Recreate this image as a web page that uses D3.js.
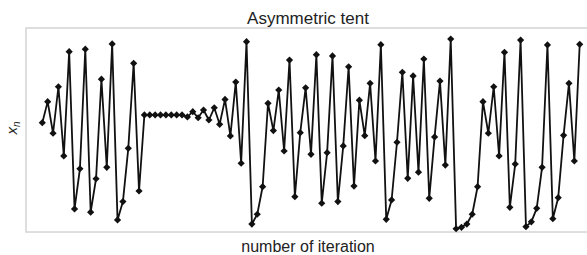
<!DOCTYPE html>
<html>
<head>
<meta charset="utf-8">
<script src="https://cdn.jsdelivr.net/npm/d3@7"></script>
<style>
  body { margin: 0; background: #fff; }
  text { font-family: "Liberation Sans", Arial, sans-serif; fill: #222; }
</style>
</head>
<body>
<div id="chart"></div>
<script>
// iterates x_n of the asymmetric tent map
const iterations = d3.range(0, 101);
const xn = [
  0.536, 0.639, 0.484, 0.712, 0.373, 0.884, 0.113, 0.310, 0.896, 0.097,
  0.261, 0.749, 0.317, 0.922, 0.059, 0.149, 0.410, 0.827, 0.201, 0.574,
  0.574, 0.574, 0.574, 0.574, 0.574, 0.574, 0.574, 0.564, 0.590, 0.560,
  0.598, 0.549, 0.609, 0.528, 0.650, 0.471, 0.735, 0.337, 0.933, 0.039,
  0.087, 0.222, 0.631, 0.497, 0.696, 0.397, 0.843, 0.173, 0.487, 0.707,
  0.381, 0.869, 0.141, 0.389, 0.863, 0.149, 0.422, 0.810, 0.225, 0.646,
  0.472, 0.729, 0.348, 0.918, 0.062, 0.157, 0.440, 0.783, 0.263, 0.765,
  0.293, 0.848, 0.165, 0.466, 0.740, 0.328, 0.946, 0.016, 0.023, 0.039,
  0.087, 0.222, 0.639, 0.484, 0.712, 0.373, 0.881, 0.121, 0.333, 0.941,
  0.026, 0.050, 0.116, 0.317, 0.917, 0.065, 0.168, 0.474, 0.729, 0.348,
  0.920
];
const chartTitle = "Asymmetric tent";
const xTitle = "number of iteration";

const data = iterations.map((d, i) => ({ n: d, v: xn[i] }));

const width = 587, height = 255;
// plot frame (right edge runs past the window, as in the picture)
const frame = { left: 26, top: 28, right: 590, bottom: 232 };

const svg = d3.select("#chart")
  .append("svg")
    .attr("width", width)
    .attr("height", height);

const x = d3.scaleLinear()
  .domain([0, 100])
  .range([42.3, 579.7]);

const y = d3.scaleLinear()
  .domain([0, 1])
  .range([frame.bottom, frame.top]);

// frame
svg.append("rect")
  .attr("x", frame.left)
  .attr("y", frame.top)
  .attr("width", frame.right - frame.left)
  .attr("height", frame.bottom - frame.top)
  .attr("fill", "none")
  .attr("stroke", "#d4d4d4")
  .attr("stroke-width", 1.5);

// line
svg.append("path")
  .datum(data)
  .attr("fill", "none")
  .attr("stroke", "#111")
  .attr("stroke-width", 1.8)
  .attr("stroke-linejoin", "round")
  .attr("d", d3.line()
    .x(d => x(d.n))
    .y(d => y(d.v)));

// diamond markers
const diamond = d3.symbol().type(d3.symbolSquare).size(26);
svg.append("g")
  .selectAll("path")
  .data(data)
  .join("path")
    .attr("d", diamond)
    .attr("transform", d => `translate(${x(d.n)},${y(d.v)}) rotate(45)`)
    .attr("fill", "#111");

// title
svg.append("text")
  .attr("x", 308)
  .attr("y", 24)
  .attr("text-anchor", "middle")
  .attr("font-size", "17px")
  .text(chartTitle);

// x label
svg.append("text")
  .attr("x", 308)
  .attr("y", 252)
  .attr("text-anchor", "middle")
  .attr("font-size", "16px")
  .text(xTitle);

// y label x_n
const yl = svg.append("text")
  .attr("transform", "translate(17,128) rotate(-90)")
  .attr("text-anchor", "middle")
  .attr("font-size", "15px");
yl.append("tspan").attr("font-style", "italic").text("x");
yl.append("tspan").attr("font-size", "10px").attr("dy", 3).attr("font-style", "italic").text("n");
</script>
</body>
</html>
